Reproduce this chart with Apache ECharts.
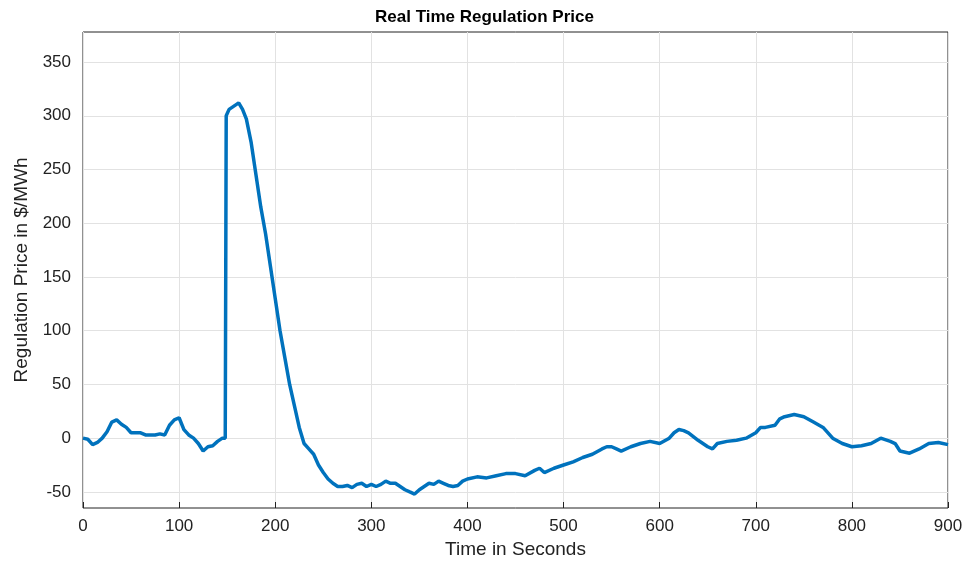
<!DOCTYPE html>
<html><head><meta charset="utf-8">
<script src="https://cdn.jsdelivr.net/npm/echarts@6/dist/echarts.min.js"></script>
<style>html,body{margin:0;padding:0;background:#fff}#c{width:969px;height:570px}</style>
</head><body><div id="c"></div>
<script>
const times=[0,5,10,15,20,25,30,35,40,45,50,55,60,65,70,75,80,85,90,95,100,105,110,115,120,125,130,135,140,145,148,149,152,157,162,166,170,175,180,185,190,195,200,205,210,215,220,225,230,235,240,245,250,255,260,265,270,275,280,285,290,295,300,305,310,315,320,325,330,335,340,345,350,355,360,365,370,375,380,385,390,395,400,410,420,430,440,450,460,470,475,480,490,500,510,520,530,540,545,550,555,560,570,580,590,600,610,615,620,625,630,640,650,655,660,670,680,690,700,705,710,720,725,730,740,750,760,770,780,790,800,810,820,830,840,845,850,860,870,880,890,900];
const prices=[0,-1,-6,-4,0,6,15,17,13,10,5,5,5,3,3,3,4,3,12,17,19,8,3,0,-5,-12,-8,-7,-3,0,0,300,306,309,312,306,297,275,245,215,190,160,130,100,75,50,30,10,-5,-10,-15,-25,-32,-38,-42,-45,-45,-44,-46,-43,-42,-45,-43,-45,-43,-40,-42,-42,-45,-48,-50,-52,-48,-45,-42,-43,-40,-42,-44,-45,-44,-40,-38,-36,-37,-35,-33,-33,-35,-30,-28,-32,-28,-25,-22,-18,-15,-10,-8,-8,-10,-12,-8,-5,-3,-5,0,5,8,7,5,-2,-8,-10,-5,-3,-2,0,5,10,10,12,18,20,22,20,15,10,0,-5,-8,-7,-5,0,-3,-5,-12,-14,-10,-5,-4,-6];
const yTicks=[-50,0,50,100,150,200,250,300,350];
const xTicks=[0,100,200,300,400,500,600,700,800,900];
const data=times.map((t,i)=>[t,prices[i]]);
const F='Liberation Sans, Arial, sans-serif';
const chart=echarts.init(document.getElementById('c'));
chart.setOption({
  animation:false,
  title:{text:'Real Time Regulation Price',left:'center',top:4,textStyle:{fontFamily:F,fontSize:17,fontWeight:'bold',color:'#000'}},
  grid:{left:83,right:21,top:32,bottom:62,show:true,borderColor:'#222',borderWidth:1},
  xAxis:{type:'value',min:0,max:900,interval:100,name:'Time in Seconds',nameLocation:'middle',nameGap:30,
    nameTextStyle:{fontFamily:F,fontSize:19,color:'#222'},
    axisLine:{show:false,onZero:false},axisTick:{show:true,inside:true,length:6,lineStyle:{color:'#222'}},
    axisLabel:{fontFamily:F,fontSize:17,color:'#222',margin:10},
    splitLine:{lineStyle:{color:'#e2e2e2'}}},
  yAxis:{type:'value',min:-65,max:378,name:'Regulation Price in $/MWh',nameLocation:'middle',nameGap:46,
    nameTextStyle:{fontFamily:F,fontSize:19,color:'#222'},
    axisLine:{show:false,onZero:false},
    axisTick:{show:true,inside:true,length:6,customValues:yTicks,lineStyle:{color:'#222'}},
    axisLabel:{fontFamily:F,fontSize:17,color:'#222',customValues:yTicks,margin:12},
    splitLine:{show:false}},
  series:[{type:'line',data:data,showSymbol:false,lineStyle:{color:'#0072BD',width:3.5},
    markLine:{silent:true,symbol:'none',label:{show:false},lineStyle:{color:'#e2e2e2',type:'solid',width:1},
      data:yTicks.map(v=>({yAxis:v}))},z:5}]
});
</script></body></html>
